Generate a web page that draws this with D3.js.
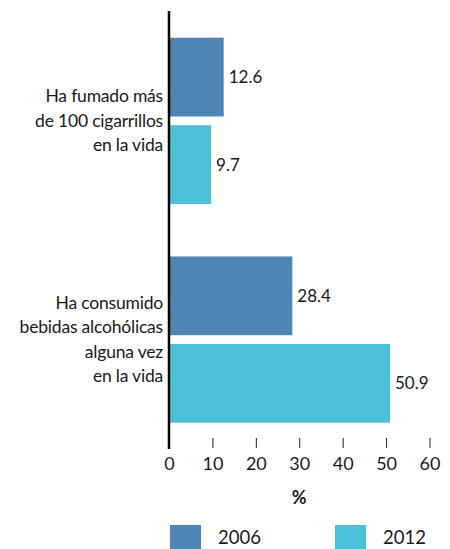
<!DOCTYPE html>
<html><head><meta charset="utf-8">
<script src="https://cdn.jsdelivr.net/npm/d3@7"></script>
<style>
body{margin:0;background:#fff;}
svg text{font-family:"Lato",sans-serif;fill:#1a1a1a;}
</style></head>
<body><svg id="c" width="450" height="549"></svg>
<script>
const categories = [
  ["Ha fumado más","de 100 cigarrillos","en la vida"],
  ["Ha consumido","bebidas alcohólicas","alguna vez","en la vida"]
];
const categoryKeys = ["tabaco","alcohol"];
const series = ["2006","2012"];
const values2006 = [12.6, 28.4];
const values2012 = [9.7, 50.9];
const tickValues = [0,10,20,30,40,50,60];
const axisTitle = "%";
const colors = {"2006":"#4d85b4","2012":"#4cc1da"};

const svg = d3.select("#c");
const x = d3.scaleLinear().domain([0,60]).range([169,429.5]);
const y0 = d3.scaleBand().domain(categoryKeys).range([37.7,422.7]).paddingInner(0.24).paddingOuter(0);
const y1 = d3.scaleBand().domain(series).range([0,y0.bandwidth()]).paddingInner(0.1);

const data = categoryKeys.map((k,i)=>({key:k, lines:categories[i],
  vals:[{s:"2006",v:values2006[i]},{s:"2012",v:values2012[i]}]}));

const g = svg.selectAll("g.grp").data(data).join("g").attr("class","grp")
  .attr("transform",d=>`translate(0,${y0(d.key)})`);
g.selectAll("rect").data(d=>d.vals).join("rect")
  .attr("x",x(0)).attr("y",d=>y1(d.s)).attr("height",y1.bandwidth())
  .attr("width",d=>x(d.v)-x(0)).attr("fill",d=>colors[d.s]);
g.selectAll("text.val").data(d=>d.vals).join("text").attr("class","val")
  .attr("x",d=>x(d.v)+5).attr("y",d=>y1(d.s)+y1.bandwidth()/2)
  .attr("dy","0.35em").attr("font-size",17).text(d=>d.v.toFixed(1));

// category labels
g.each(function(d){
  const t = d3.select(this).append("text").attr("text-anchor","end").attr("font-size",17.5)
    .attr("letter-spacing","-0.2");
  const n = d.lines.length, lh = 24.5;
  const cy = y0.bandwidth()/2;
  d.lines.forEach((l,i)=>{
    t.append("tspan").attr("x",163).attr("y",cy + (i-(n-1)/2)*lh).attr("dy","0.35em").text(l);
  });
});

// axis
const ax = svg.append("g").attr("transform","translate(0,438)")
  .call(d3.axisBottom(x).tickValues(tickValues).tickSize(10).tickPadding(9).tickFormat(d3.format("d")));
ax.select(".domain").remove();
ax.selectAll(".tick line").attr("stroke","#222");
ax.selectAll(".tick text").attr("font-size",18).attr("fill","#1a1a1a")
  .style("font-family",'"Lato",sans-serif');
svg.append("line").attr("x1",x(0)).attr("x2",x(0)).attr("y1",11).attr("y2",449)
  .attr("stroke","#000").attr("stroke-width",2.5);
svg.append("text").attr("x",(x(0)+x(60))/2).attr("y",498).attr("dy","0.35em")
  .attr("text-anchor","middle").attr("font-size",18).attr("font-weight","bold").text(axisTitle);

// legend
const leg = svg.selectAll("g.leg").data(series).join("g").attr("class","leg")
  .attr("transform",(d,i)=>`translate(${[170,335][i]},525)`);
leg.append("rect").attr("width",31).attr("height",26).attr("fill",d=>colors[d]);
leg.append("text").attr("x",48).attr("y",13).attr("dy","0.35em").attr("font-size",18.5).text(d=>d);
</script></body></html>
